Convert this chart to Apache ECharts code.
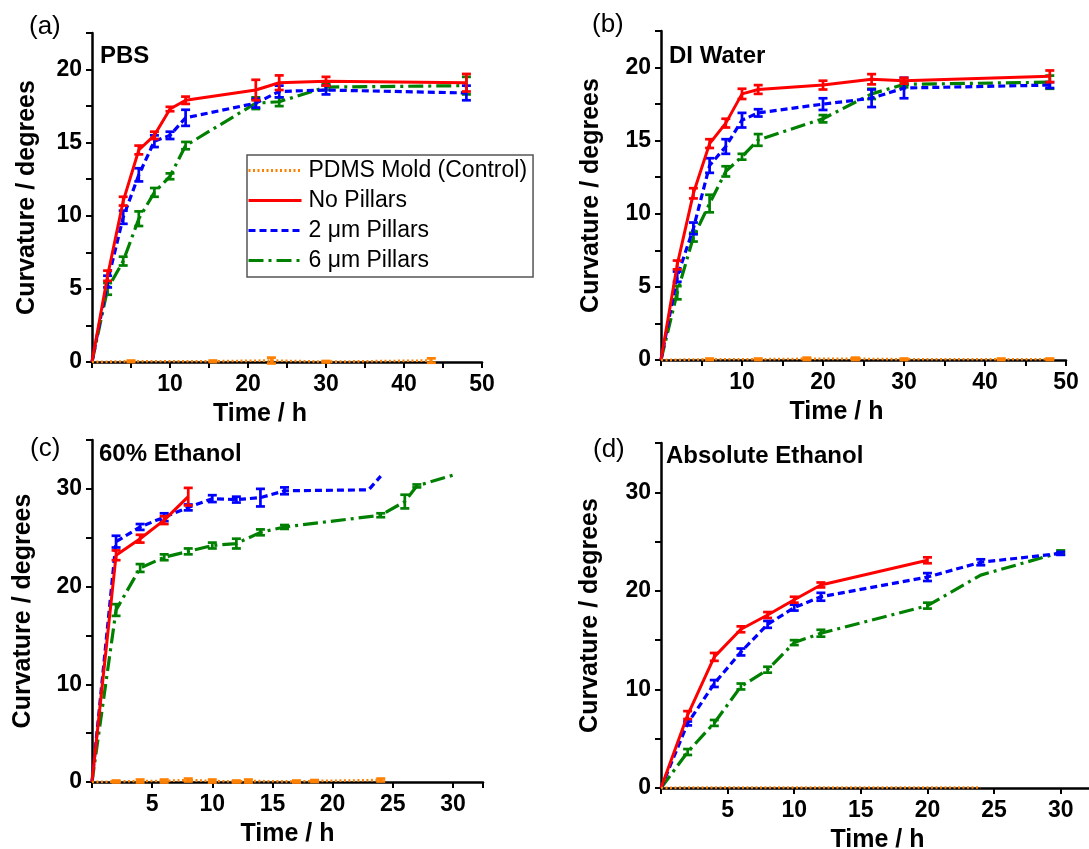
<!DOCTYPE html>
<html>
<head>
<meta charset="utf-8">
<script src="https://cdn.jsdelivr.net/npm/echarts@6/dist/echarts.min.js"></script>
<style>
  html, body { margin: 0; padding: 0; background: #fff; }
  #chart { width: 1089px; height: 849px; }
</style>
</head>
<body>
<div id="chart"></div>
<script>
// ---- values ----
// (a) PBS
const pbsTime = [0, 2, 4, 6, 8, 10, 12, 21, 24, 30, 48];
const pbsNone = [0, 5.9, 11.0, 14.5, 15.5, 17.3, 17.9, 18.6, 19.1, 19.2, 19.1];
const pbsNoneErr = [0, 0.35, 0.3, 0.3, 0.25, 0.15, 0.25, 0.7, 0.5, 0.3, 0.6];
const pbs2um = [0, 5.5, 9.9, 12.8, 15.1, 15.5, 16.7, 17.7, 18.5, 18.6, 18.4];
const pbs2umErr = [0, 0.4, 0.45, 0.45, 0.4, 0.25, 0.55, 0.3, 0.4, 0.3, 0.5];
const pbs6um = [0, 5.0, 6.9, 9.8, 11.6, 12.7, 14.8, 17.7, 17.8, 18.8, 18.9];
const pbs6umErr = [0, 0.4, 0.3, 0.5, 0.3, 0.2, 0.25, 0.4, 0.3, 0.2, 0.6];
const pbsMoldTime = [0, 5, 15.5, 23, 30, 43.5];
const pbsMold = [0, 0.05, 0.05, 0.1, 0.02, 0.1];
const pbsMoldErr = [0, 0.05, 0.05, 0.2, 0.05, 0.15];

// (b) DI water
const diTime = [0, 2, 4, 6, 8, 10, 12, 20, 26, 30, 48];
const diNone = [0, 6.5, 11.4, 14.8, 16.2, 18.2, 18.5, 18.8, 19.2, 19.1, 19.4];
const diNoneErr = [0, 0.3, 0.35, 0.3, 0.3, 0.35, 0.3, 0.3, 0.35, 0.2, 0.4];
const di2um = [0, 5.7, 9.0, 13.3, 14.6, 16.4, 16.9, 17.5, 17.9, 18.6, 18.8];
const di2umErr = [0, 0.35, 0.4, 0.5, 0.5, 0.5, 0.25, 0.4, 0.6, 0.7, 0.2];
const di6um = [0, 4.6, 8.4, 10.7, 12.9, 13.9, 15.05, 16.5, 18.2, 18.85, 19.0];
const di6umErr = [0, 0.45, 0.3, 0.6, 0.35, 0.2, 0.4, 0.25, 0.35, 0.2, 0.45];
const diMoldTime = [0, 6, 12, 18, 24, 30, 42, 48];
const diMold = [0, 0.05, 0.05, 0.08, 0.08, 0.05, 0.05, 0.05];
const diMoldErr = [0, 0.05, 0.05, 0.08, 0.08, 0.05, 0.05, 0.05];

// (c) 60% ethanol
const e60NoneTime = [0, 2, 4, 6, 8];
const e60None = [0, 23.2, 24.9, 26.8, 29.2];
const e60NoneErr = [0, 0.5, 0.4, 0.4, 0.9];
const e60_2umTime = [0, 2, 4, 6, 8, 10, 12, 14, 16, 23, 24];
const e60_2um = [0, 24.6, 26.1, 27.1, 28.1, 29.0, 28.9, 29.1, 29.8, 29.9, 31.3];
const e60_2umErr = [0, 0.6, 0.3, 0.4, 0.3, 0.35, 0.3, 0.9, 0.35, 0, 0];
const e60_6umTime = [0, 2, 4, 6, 8, 10, 12, 14, 16, 24, 26, 27, 30];
const e60_6um = [0, 17.6, 21.9, 23.0, 23.6, 24.2, 24.4, 25.55, 26.1, 27.3, 28.7, 30.3, 31.4];
const e60_6umErr = [0, 0.6, 0.4, 0.3, 0.3, 0.3, 0.5, 0.3, 0.2, 0.2, 0.7, 0.15, 0];
const e60MoldTime = [0, 2, 4, 6, 8, 10, 12, 13, 17, 18.5, 24];
const e60Mold = [0, 0.05, 0.1, 0.1, 0.2, 0.1, 0.05, 0.1, 0.05, 0.1, 0.2];
const e60MoldErr = [0, 0.1, 0.15, 0.15, 0.15, 0.15, 0.1, 0.15, 0.1, 0.1, 0.15];

// (d) absolute ethanol
const absNoneTime = [0, 2, 4, 6, 8, 10, 12, 20];
const absNone = [0, 7.4, 13.3, 16.1, 17.55, 19.1, 20.6, 23.1];
const absNoneErr = [0, 0.4, 0.4, 0.3, 0.3, 0.3, 0.25, 0.3];
const absTime = [0, 2, 4, 6, 8, 10, 12, 20, 24, 30];
const abs2um = [0, 6.55, 10.6, 13.8, 16.6, 18.3, 19.4, 21.4, 22.9, 23.8];
const abs2umErr = [0, 0.2, 0.35, 0.35, 0.35, 0.3, 0.4, 0.4, 0.3, 0.15];
const abs6um = [0, 3.65, 6.6, 10.3, 12.0, 14.75, 15.7, 18.5, 21.6, 23.9];
const abs6umErr = [0, 0.3, 0.3, 0.3, 0.3, 0.25, 0.35, 0.3, 0, 0.2];
const absMoldTime = [0, 2, 4, 6, 8, 10, 12, 18, 20, 24];
const absMold = [0, 0.05, 0.05, 0.05, 0.05, 0.05, 0.05, 0.05, 0.05, 0.05];

const seriesNames = ['PDMS Mold (Control)', 'No Pillars', '2 \u03bcm Pillars', '6 \u03bcm Pillars'];
const panelLabels = ['(a)', '(b)', '(c)', '(d)'];
const panelTitles = ['PBS', 'DI Water', '60% Ethanol', 'Absolute Ethanol'];

// ---- styling ----
const FONT = '"Liberation Sans", Arial, sans-serif';
const C_MOLD = '#FF8000';
const C_NONE = '#FF0000';
const C_2UM = '#0000FF';
const C_6UM = '#008000';

const styles = {
  mold: { color: C_MOLD, width: 2.6, type: [2, 2.5] },
  none: { color: C_NONE, width: 3, type: 'solid' },
  um2: { color: C_2UM, width: 3.2, type: [7, 4] },
  um6: { color: C_6UM, width: 3.2, type: [15, 5, 3, 5] },
};

// panel geometry (px)
const grids = [
  { left: 92, top: 33, width: 390, height: 329 },
  { left: 661, top: 31, width: 405, height: 329 },
  { left: 92, top: 440, width: 391, height: 342 },
  { left: 661, top: 443, width: 433, height: 345 },
];

function lineSeries(name, idx, times, vals, st, z) {
  return {
    name,
    type: 'line',
    xAxisIndex: idx,
    yAxisIndex: idx,
    data: times.map((t, i) => [t, vals[i]]),
    symbol: 'none',
    clip: false,
    z,
    itemStyle: { color: st.color },
    lineStyle: { color: st.color, width: st.width, type: st.type, cap: 'butt' },
    emphasis: { disabled: true },
  };
}

function errSeries(idx, times, vals, errs, color, z) {
  return {
    type: 'custom',
    name: 'err',
    xAxisIndex: idx,
    yAxisIndex: idx,
    silent: true,
    clip: false,
    z,
    data: times.map((t, i) => [t, vals[i], errs[i]]),
    encode: { x: 0, y: 1 },
    renderItem(params, api) {
      const x = api.value(0), y = api.value(1), e = api.value(2);
      if (!e) return;
      const top = api.coord([x, y + e]);
      const bot = api.coord([x, y - e]);
      const w = 4.5;
      const st = { stroke: color, lineWidth: 2.7 };
      return {
        type: 'group',
        children: [
          { type: 'line', shape: { x1: top[0], y1: top[1], x2: bot[0], y2: bot[1] }, style: st },
          { type: 'line', shape: { x1: top[0] - w, y1: top[1], x2: top[0] + w, y2: top[1] }, style: st },
          { type: 'line', shape: { x1: bot[0] - w, y1: bot[1], x2: bot[0] + w, y2: bot[1] }, style: st },
        ],
      };
    },
  };
}

function panel(idx, mold, none, um2, um6) {
  const out = [];
  // draw order: green, blue, red, orange on top
  out.push(lineSeries(seriesNames[3], idx, um6[0], um6[1], styles.um6, 3));
  out.push(errSeries(idx, um6[0], um6[1], um6[2], C_6UM, 3));
  out.push(lineSeries(seriesNames[2], idx, um2[0], um2[1], styles.um2, 4));
  out.push(errSeries(idx, um2[0], um2[1], um2[2], C_2UM, 4));
  out.push(lineSeries(seriesNames[1], idx, none[0], none[1], styles.none, 5));
  out.push(errSeries(idx, none[0], none[1], none[2], C_NONE, 5));
  out.push(lineSeries(seriesNames[0], idx, mold[0], mold[1], styles.mold, 6));
  if (mold[2]) out.push(errSeries(idx, mold[0], mold[1], mold[2], C_MOLD, 6));
  return out;
}

const axisLine = { show: true, lineStyle: { color: '#000', width: 2.5 } };
const axisTick = { show: true, inside: false, length: 6, lineStyle: { color: '#000', width: 2 } };
const tickFont = { fontFamily: FONT, fontSize: 23, fontWeight: 'bold', color: '#000' };
const nameFont = { fontFamily: FONT, fontSize: 25, fontWeight: 'bold', color: '#000' };

// shiftLeft: the top row's "Time / h" sits left of the axis centre
function xAxis(idx, max, interval, labelStep, shiftLeft) {
  return {
    gridIndex: idx,
    type: 'value',
    min: 0,
    max,
    interval,
    name: 'Time / h',
    nameLocation: 'middle',
    nameGap: 40,
    nameTextStyle: { ...nameFont, padding: [0, shiftLeft * 2, 0, 0] },
    axisLine,
    axisTick,
    splitLine: { show: false },
    axisLabel: {
      ...tickFont,
      margin: 11,
      showMaxLabel: true,
      formatter: (v) => (v > 0 && v % labelStep === 0 ? String(v) : ''),
    },
  };
}

function yAxis(idx, max, interval, labelStep, gap) {
  return {
    gridIndex: idx,
    type: 'value',
    min: 0,
    max,
    interval,
    name: 'Curvature / degrees',
    nameLocation: 'middle',
    nameGap: gap,
    nameTextStyle: nameFont,
    axisLine,
    axisTick,
    splitLine: { show: false },
    axisLabel: {
      ...tickFont,
      margin: 10,
      formatter: (v) => (v % labelStep === 0 ? String(v) : ''),
    },
  };
}

const titlePos = [
  { left: 29, top: 14 }, { left: 100, top: 44 },
  { left: 592, top: 12 }, { left: 669, top: 44 },
  { left: 30, top: 436 }, { left: 99, top: 442 },
  { left: 593, top: 437 }, { left: 666, top: 444 },
];

const titles = [];
for (let i = 0; i < 4; i++) {
  titles.push({
    text: panelLabels[i],
    ...titlePos[i * 2],
    padding: 0,
    textStyle: { fontFamily: FONT, fontSize: 26, fontWeight: 'normal', color: '#000' },
  });
  titles.push({
    text: panelTitles[i],
    ...titlePos[i * 2 + 1],
    padding: 0,
    textStyle: { fontFamily: FONT, fontSize: 24, fontWeight: 'bold', color: '#000' },
  });
}

const series = [].concat(
  panel(0, [pbsMoldTime, pbsMold, pbsMoldErr], [pbsTime, pbsNone, pbsNoneErr],
    [pbsTime, pbs2um, pbs2umErr], [pbsTime, pbs6um, pbs6umErr]),
  panel(1, [diMoldTime, diMold, diMoldErr], [diTime, diNone, diNoneErr],
    [diTime, di2um, di2umErr], [diTime, di6um, di6umErr]),
  panel(2, [e60MoldTime, e60Mold, e60MoldErr], [e60NoneTime, e60None, e60NoneErr],
    [e60_2umTime, e60_2um, e60_2umErr], [e60_6umTime, e60_6um, e60_6umErr]),
  panel(3, [absMoldTime, absMold, null], [absNoneTime, absNone, absNoneErr],
    [absTime, abs2um, abs2umErr], [absTime, abs6um, abs6umErr])
);

const chart = echarts.init(document.getElementById('chart'), null, { renderer: 'canvas' });

chart.setOption({
  backgroundColor: '#fff',
  animation: false,
  title: titles,
  grid: grids.map((g) => ({ ...g, containLabel: false, outerBoundsMode: 'none' })),
  xAxis: [
    xAxis(0, 50, 5, 10, 27),
    xAxis(1, 50, 5, 10, 27),
    xAxis(2, 32.5, 5, 5, 0),
    xAxis(3, 32.5, 5, 5, 0),
  ],
  yAxis: [
    yAxis(0, 22.5, 2.5, 5, 52),
    yAxis(1, 22.5, 2.5, 5, 57),
    yAxis(2, 35, 5, 10, 56),
    yAxis(3, 35, 5, 10, 58),
  ],
  legend: {
    data: seriesNames,
    orient: 'vertical',
    left: 247,
    top: 155,
    itemWidth: 53,
    itemHeight: 14,
    itemGap: 7,
    padding: [4, 6, 5, 0],
    borderColor: '#555',
    borderWidth: 1.5,
    backgroundColor: '#fff',
    selectedMode: false,
    // hide the marker dot the line legend adds; keep the line sample
    itemStyle: { color: 'rgba(0,0,0,0)', borderWidth: 0, opacity: 0 },
    lineStyle: { width: 3 },
    textStyle: { fontFamily: FONT, fontSize: 23, color: '#000', padding: [0, 0, 0, 2] },
  },
  series,
});
</script>
</body>
</html>
